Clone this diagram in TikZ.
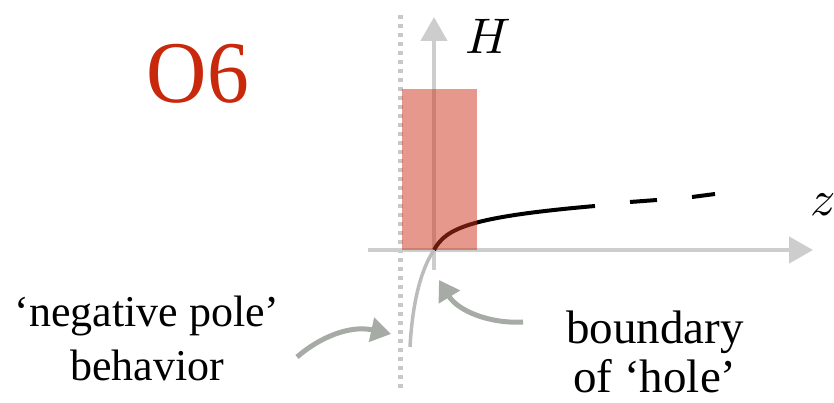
\documentclass[tikz,border=0pt]{standalone}
\usepackage{fontspec}
\setmainfont{Liberation Serif}
\DeclareFontShape{OML}{cmm}{m}{it}{<->cmmi10}{}
\usetikzlibrary{arrows.meta}
\definecolor{ored}{RGB}{200,40,12}
\definecolor{rectred}{RGB}{205,50,25}
\definecolor{axisgray}{RGB}{205,205,205}
\definecolor{dotgray}{RGB}{200,200,200}
\definecolor{curvegray}{RGB}{188,188,188}
\definecolor{arrgray}{RGB}{166,171,166}
\tikzset{
  axisline/.style={draw=axisgray, line width=4.5pt, -{Triangle[length=24pt,width=26pt]}},
  pointer/.style={draw=arrgray, line width=5pt, -{Triangle[length=20pt,width=24pt]}},
  label/.style={font=\fontsize{47}{53}\selectfont, align=center, inner sep=0pt},
  mathlabel/.style={font=\fontsize{50}{56}\selectfont, inner sep=0pt},
}
\begin{document}
\begin{tikzpicture}[x=1pt,y=1pt]
\useasboundingbox (0,0) rectangle (834,403);
% title
\node[text=ored, font=\fontsize{88}{96}\selectfont, inner sep=0pt, xscale=0.95] (title) at (198,329) {O6};
% dotted asymptote
\coordinate (dtop) at (400,388);
\coordinate (dbot) at (400,11);
\draw[dotgray, line width=5pt, dash pattern=on 4.5pt off 4.5pt] (dtop) -- (dbot);
% axes
\coordinate (o) at (434,153);
\coordinate (hstart) at (434,133);
\coordinate (htip) at (434,386);
\coordinate (zstart) at (368,153);
\coordinate (ztip) at (813,153);
\draw[axisline] (hstart) -- (htip);
\draw[axisline] (zstart) -- (ztip);
\node[mathlabel] (H) at (488,367) {$H$};
\node[mathlabel] (z) at (823,198) {$z$};
% curves
\coordinate (cend) at (595,197);
\draw[black, line width=4pt] (o) .. controls (446,175) and (470,186) .. (cend);
\coordinate (d1a) at (630,201);
\coordinate (d1b) at (657,203);
\coordinate (d2a) at (692,206);
\coordinate (d2b) at (715,209);
\draw[black, line width=4pt] (d1a) -- (d1b);
\draw[black, line width=4pt] (d2a) -- (d2b);
\coordinate (gend) at (410,56);
\draw[curvegray, line width=3.5pt] (o) .. controls (424,138) and (413,110) .. (gend);
% hole rectangle
\fill[rectred, opacity=0.5] (402,153) rectangle (477,314);
% labels
\node[label, font=\fontsize{44}{52}\selectfont] (neg) at (147,65) {‘negative pole’\\[2pt]behavior};
\node[label] (bnd) at (655,51) {boundary\\[-4pt]of ‘hole’};
% pointer arrows
\coordinate (p1s) at (297,46);
\coordinate (p1t) at (391,69);
\draw[pointer] (p1s) .. controls (320,66) and (350,78) .. (p1t);
\coordinate (p2s) at (523,81);
\coordinate (p2t) at (439,123);
\draw[pointer] (p2s) .. controls (490,79) and (458,92) .. (p2t);
\end{tikzpicture}
\end{document}
